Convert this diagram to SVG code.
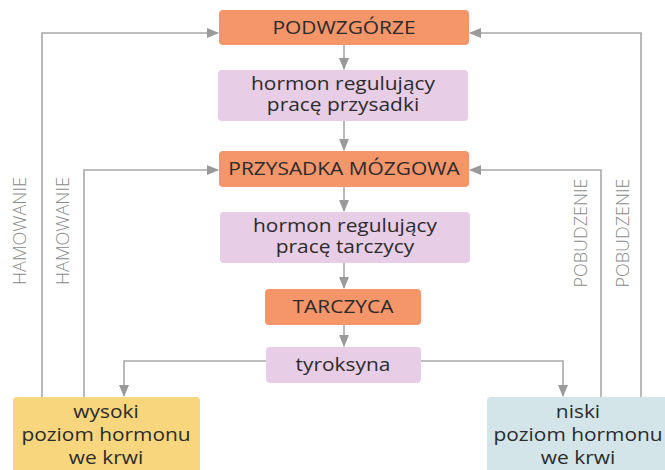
<svg xmlns="http://www.w3.org/2000/svg" width="665" height="470" viewBox="0 0 665 470">
<style>
.org{fill:#f4956a}
.pnk{fill:#e8cde6}
.yel{fill:#f7d67d}
.blu{fill:#d4e5ea}
.t{font-family:"Open Sans","Liberation Sans",sans-serif;font-size:19px;fill:#2b2b2b;text-anchor:middle}
.v{font-family:"Open Sans","Liberation Sans",sans-serif;font-size:18px;font-weight:300;fill:#8a8a8a;text-anchor:middle}
.ln{fill:none;stroke:#a8a8a8;stroke-width:1.6}
</style>
<defs>
<marker id="ah" markerWidth="12" markerHeight="10" refX="11" refY="5" orient="auto" markerUnits="userSpaceOnUse">
<path d="M0,0 L12,5 L0,10 Z" fill="#9a9a9a"/>
</marker>
</defs>
<rect width="665" height="470" fill="#ffffff"/>
<g id="connectors">
<path class="ln" d="M344,45 V69" marker-end="url(#ah)"/>
<path class="ln" d="M344,121 V150" marker-end="url(#ah)"/>
<path class="ln" d="M344,187 V211" marker-end="url(#ah)"/>
<path class="ln" d="M344,263 V288" marker-end="url(#ah)"/>
<path class="ln" d="M344,325 V346" marker-end="url(#ah)"/>
<path class="ln" d="M266,361 H124 V396" marker-end="url(#ah)"/>
<path class="ln" d="M421,361 H563 V396" marker-end="url(#ah)"/>
<path class="ln" d="M42,397 V33 H218" marker-end="url(#ah)"/>
<path class="ln" d="M84,397 V170 H218" marker-end="url(#ah)"/>
<path class="ln" d="M641,397 V33 H470" marker-end="url(#ah)"/>
<path class="ln" d="M601,397 V170 H470" marker-end="url(#ah)"/>
<text class="v" transform="translate(26,231) rotate(-90)" textLength="108" lengthAdjust="spacingAndGlyphs">HAMOWANIE</text>
<text class="v" transform="translate(69,231) rotate(-90)" textLength="108" lengthAdjust="spacingAndGlyphs">HAMOWANIE</text>
<text class="v" transform="translate(587,233) rotate(-90)" textLength="109" lengthAdjust="spacingAndGlyphs">POBUDZENIE</text>
<text class="v" transform="translate(629,233) rotate(-90)" textLength="109" lengthAdjust="spacingAndGlyphs">POBUDZENIE</text>
</g>
<g id="podwzgorze">
<rect class="org" x="219" y="10" width="250" height="35" rx="4"/>
<text class="t" transform="translate(344,34) scale(1.1,1)">PODWZGÓRZE</text>
</g>
<g id="hormon1">
<rect class="pnk" x="218" y="70" width="250" height="51" rx="4"/>
<text class="t" transform="translate(343,90) scale(1.1,1)">hormon regulujący</text>
<text class="t" transform="translate(343,111) scale(1.1,1)">pracę przysadki</text>
</g>
<g id="przysadka">
<rect class="org" x="219" y="151" width="250" height="36" rx="4"/>
<text class="t" transform="translate(344,175) scale(1.1,1)">PRZYSADKA MÓZGOWA</text>
</g>
<g id="hormon2">
<rect class="pnk" x="220" y="212" width="250" height="51" rx="4"/>
<text class="t" transform="translate(345,232) scale(1.1,1)">hormon regulujący</text>
<text class="t" transform="translate(345,253) scale(1.1,1)">pracę tarczycy</text>
</g>
<g id="tarczyca">
<rect class="org" x="265" y="289" width="156" height="36" rx="4"/>
<text class="t" transform="translate(343,313) scale(1.1,1)">TARCZYCA</text>
</g>
<g id="tyroksyna">
<rect class="pnk" x="266" y="347" width="155" height="36" rx="4"/>
<text class="t" transform="translate(343,371) scale(1.1,1)">tyroksyna</text>
</g>
<g id="wysoki">
<rect class="yel" x="13" y="397" width="187" height="80" rx="4"/>
<text class="t" transform="translate(106,418) scale(1.1,1)">wysoki</text>
<text class="t" transform="translate(106,441) scale(1.1,1)">poziom hormonu</text>
<text class="t" transform="translate(106,464) scale(1.1,1)">we krwi</text>
</g>
<g id="niski">
<rect class="blu" x="487" y="397" width="185" height="80" rx="4"/>
<text class="t" transform="translate(578,418) scale(1.1,1)">niski</text>
<text class="t" transform="translate(578,441) scale(1.1,1)">poziom hormonu</text>
<text class="t" transform="translate(578,464) scale(1.1,1)">we krwi</text>
</g>
</svg>
